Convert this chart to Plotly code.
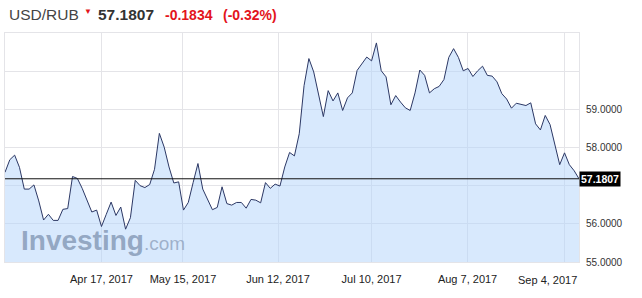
import plotly.graph_objects as go

# ---- data ----
rates = [
    57.35, 57.68, 57.80, 57.48, 56.91, 56.91, 57.02, 56.60, 56.10, 56.25,
    56.09, 56.09, 56.38, 56.40, 57.24, 57.19, 56.93, 56.60, 56.31, 56.36,
    55.93, 56.25, 56.57, 56.22, 56.44, 55.86, 56.16, 57.14, 57.00, 56.95,
    57.03, 57.43, 58.37, 58.01, 57.49, 57.07, 57.10, 56.36, 56.56, 57.08,
    57.58, 56.91, 56.62, 56.37, 56.43, 56.97, 56.53, 56.49, 56.56, 56.56,
    56.41, 56.64, 56.62, 56.55, 57.08, 56.93, 57.04, 56.99, 57.49, 57.87,
    57.78, 58.36, 59.62, 60.33, 59.98, 59.41, 58.81, 59.49, 59.22, 59.43,
    58.97, 59.30, 59.43, 60.02, 60.18, 60.37, 60.27, 60.74, 60.01, 59.85,
    59.12, 59.36, 59.19, 59.04, 58.97, 59.43, 60.03, 59.89, 59.43, 59.54,
    59.60, 59.78, 60.36, 60.59, 60.36, 60.01, 60.07, 59.86, 60.01, 60.13,
    59.89, 59.87, 59.72, 59.41, 59.27, 59.03, 59.16, 59.12, 59.10, 59.17,
    58.62, 58.46, 58.84, 58.60, 58.05, 57.55, 57.86, 57.55, 57.39, 57.1807,
]
last_price = 57.1807
change = "-0.1834"
change_pct = "(-0.32%)"
pair = "USD/RUB"

date_labels = ["Apr 17, 2017", "May 15, 2017", "Jun 12, 2017",
               "Jul 10, 2017", "Aug 7, 2017", "Sep 4, 2017"]
date_positions = [20, 36.9, 56.6, 76, 95.9, 115.9]
y_ticks = [55, 56, 57, 58, 59, 60, 61]
# 57.0000 sits behind the current-price label in the reference
y_labels = ["55.0000", "56.0000", "", "58.0000", "59.0000", "", ""]

idx = list(range(len(rates)))

FONT = "Arial, Liberation Sans, sans-serif"
GRID = "#e4e4e8"
RED = "#e3141c"

fig = go.Figure()
fig.add_trace(go.Scatter(
    x=idx, y=rates, mode="lines",
    line=dict(color="#2c3865", width=1),
    fill="tozeroy", fillcolor="rgba(177,211,251,0.5)",
    hoverinfo="skip",
))

fig.update_layout(
    width=642, height=298,
    margin=dict(l=5, r=63, t=33, b=36),
    paper_bgcolor="white", plot_bgcolor="white",
    showlegend=False,
    font=dict(family=FONT, color="#333333"),
    xaxis=dict(
        range=[0, len(rates) - 1],
        tickvals=date_positions,
        ticktext=date_labels[:-1] + [""],
        showgrid=True, gridcolor=GRID, gridwidth=1,
        showline=True, linecolor=GRID, mirror=True,
        zeroline=False, ticks="",
        tickfont=dict(size=11, color="#222222"),
        ticklabelstandoff=7,
    ),
    yaxis=dict(
        range=[55, 61],
        side="right",
        tickvals=y_ticks, ticktext=y_labels,
        showgrid=True, gridcolor=GRID, gridwidth=1,
        showline=True, linecolor=GRID, mirror=True,
        zeroline=False, ticks="",
        tickfont=dict(size=10, color="#333333"),
        ticklabelstandoff=4,
    ),
)

# current price line
fig.add_shape(type="line", xref="paper", x0=0, x1=1, yref="y",
              y0=last_price, y1=last_price,
              line=dict(color="#111111", width=1))

annotations = [
    # price label box
    dict(x=1, xref="paper", y=last_price, yref="y", xanchor="left",
         yanchor="middle", text="<b>%.4f</b>" % last_price, showarrow=False,
         bgcolor="black", borderpad=1,
         font=dict(size=10.5, color="white", family=FONT)),
    # last x label (right-aligned at plot edge)
    dict(x=1, xref="paper", y=-0.078, yref="paper", xanchor="right",
         yanchor="middle", text=date_labels[-1], showarrow=False,
         font=dict(size=11, color="#222222", family=FONT)),
    # header
    dict(x=0.0035, xref="paper", y=1.08, yref="paper", xanchor="left",
         yanchor="middle", text=pair, showarrow=False,
         font=dict(size=15.5, color="#444444", family=FONT)),
    dict(x=0.134, xref="paper", y=1.095, yref="paper", xanchor="left",
         yanchor="middle", text="▼", showarrow=False,
         font=dict(size=8, color=RED, family=FONT)),
    dict(x=0.159, xref="paper", y=1.08, yref="paper", xanchor="left",
         yanchor="middle", text="<b>%.4f</b>" % last_price, showarrow=False,
         font=dict(size=15.5, color="#333333", family=FONT)),
    dict(x=0.275, xref="paper", y=1.078, yref="paper", xanchor="left",
         yanchor="middle", text="<b>%s</b>" % change, showarrow=False,
         font=dict(size=14, color=RED, family=FONT)),
    dict(x=0.3755, xref="paper", y=1.078, yref="paper", xanchor="left",
         yanchor="middle", text="<b>%s</b>" % change_pct, showarrow=False,
         font=dict(size=14, color=RED, family=FONT)),
    # watermark
    dict(x=0.025, xref="paper", y=0.095, yref="paper", xanchor="left",
         yanchor="middle", text="<b>Investing</b>", showarrow=False,
         font=dict(size=28, color="rgba(130,150,180,0.8)", family=FONT)),
    dict(x=0.238, xref="paper", y=0.08, yref="paper", xanchor="left",
         yanchor="middle", text=".com", showarrow=False,
         font=dict(size=19, color="rgba(140,158,185,0.75)", family=FONT)),
]
fig.update_layout(annotations=annotations)

fig.write_html("out.html")
